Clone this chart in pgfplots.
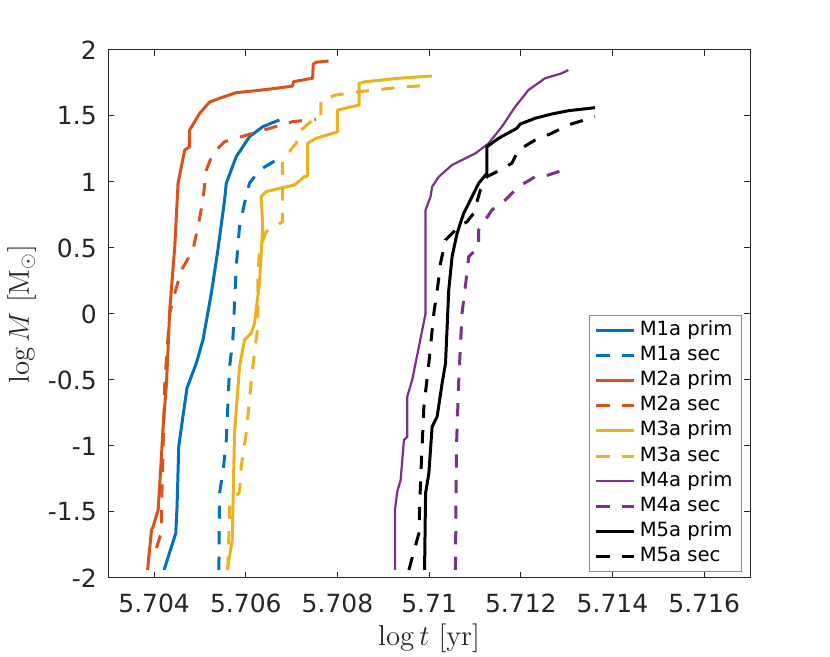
\documentclass[border=0pt]{standalone}
\usepackage[no-math]{fontspec}
\setmainfont{DejaVu Sans}
\usepackage{pgfplots}
\pgfplotsset{compat=1.18}
\definecolor{mblue}{rgb}{0,0.447,0.741}
\definecolor{morange}{rgb}{0.85,0.325,0.098}
\definecolor{myellow}{rgb}{0.929,0.694,0.125}
\definecolor{mpurple}{rgb}{0.494,0.184,0.556}
\tikzset{mdash/.style={dash pattern=on 6.6pt off 6.2pt}}
\begin{document}
\begin{tikzpicture}
\path[use as bounding box, fill=white] (-54.15pt,-39.5pt) rectangle (360.85pt,289pt);
\begin{axis}[
  at={(0pt,0pt)}, anchor=south west,
  scale only axis, width=320.85pt, height=264pt,
  xmin=5.703, xmax=5.717, ymin=-2, ymax=2,
  scaled x ticks=false, scaled y ticks=false,
  xtick={5.704,5.706,5.708,5.710,5.712,5.714,5.716},
  xticklabels={5.704,5.706,5.708,5.71,5.712,5.714,5.716},
  ytick={-2,-1.5,-1,-0.5,0,0.5,1,1.5,2},
  yticklabels={-2,-1.5,-1,-0.5,0,0.5,1,1.5,2},
  tick align=inside, major tick length=3pt,
  tick style={black!85, line width=0.5pt},
  axis line style={black!85, line width=0.5pt},
  xticklabel style={font=\fontsize{12.5}{15}\selectfont, text=black!85, anchor=base, inner sep=0pt, yshift=-17.5pt},
  yticklabel style={font=\fontsize{12.5}{15}\selectfont, text=black!85, anchor=east, inner sep=0pt, xshift=-5.6pt},
  xlabel={$\log t\ [\mathrm{yr}]$},
  ylabel={$\log M\ [\mathrm{M}_\odot]$},
  xlabel style={at={(axis description cs:0.5,0)}, anchor=base, inner sep=0pt, yshift=-34pt, font=\fontsize{14}{17}\selectfont, text=black!85},
  ylabel style={at={(axis description cs:-0.1236,0.5)}, anchor=base, inner sep=0pt, font=\fontsize{14}{17}\selectfont, text=black!85},
  legend cell align=left,
  legend image code/.code={\draw[#1] (0pt,0pt) -- (19pt,0pt);},
  legend style={at={(axis description cs:0.9875,0.0114)}, anchor=south east,
    draw=black!45, line width=0.5pt, fill=white,
    font=\fontsize{9.8}{11}\selectfont,
    inner xsep=2.5pt, inner ysep=1pt, row sep=0pt, column sep=0pt,
    nodes={text height=7.3pt, text depth=2.3pt, inner ysep=1.5pt, inner xsep=2pt}},
  every axis plot/.append style={line width=1.5pt, line join=round},
]
% M1a prim
\addplot[mblue] coordinates {
(5.704217,-1.939) (5.704472,-1.661) (5.704500,-1.460) (5.704537,-1.005) (5.704617,-0.803)
(5.704717,-0.561) (5.704922,-0.371) (5.705065,-0.197) (5.705248,0.157) (5.705391,0.485)
(5.705537,0.864) (5.705574,0.990) (5.705791,1.192) (5.706080,1.343) (5.706370,1.419) (5.706733,1.470)};
\addlegendentry{M1a prim}
% M1a sec
\addplot[mblue, mdash] coordinates {
(5.705413,-1.939) (5.705428,-1.358) (5.705515,-1.157) (5.705574,-0.955) (5.705646,-0.399)
(5.705717,-0.197) (5.705791,0.358) (5.705863,0.661) (5.705972,0.839) (5.706080,0.990)
(5.706298,1.091) (5.706733,1.180)};
\addlegendentry{M1a sec}
% M2a prim
\addplot[morange] coordinates {
(5.703857,-1.939) (5.703943,-1.636) (5.703978,-1.611) (5.704087,-1.485) (5.704146,-1.157)
(5.704196,-0.854) (5.704270,-0.523) (5.704341,0.030) (5.704450,0.510) (5.704522,0.990)
(5.704667,1.242) (5.704776,1.267) (5.704776,1.394) (5.704993,1.520) (5.705211,1.606)
(5.705428,1.634) (5.705791,1.677) (5.706226,1.692) (5.706661,1.710) (5.707022,1.727)
(5.707037,1.760) (5.707457,1.786) (5.707472,1.894) (5.707530,1.907) (5.707804,1.917)};
\addlegendentry{M2a prim}
% M2a sec
\addplot[morange, mdash] coordinates {
(5.704052,-1.773) (5.704161,-1.649) (5.704161,-1.485) (5.704196,-1.005) (5.704233,-0.513)
(5.704341,0.008) (5.704450,0.157) (5.704596,0.333) (5.704848,0.485) (5.704993,0.727)
(5.705065,0.864) (5.705139,1.091) (5.705283,1.217) (5.705537,1.305) (5.705863,1.339)
(5.706152,1.369) (5.706733,1.428) (5.707022,1.457) (5.707530,1.475)};
\addlegendentry{M2a sec}
% M3a prim
\addplot[myellow] coordinates {
(5.705596,-1.939) (5.705704,-1.712) (5.705754,-0.904) (5.705863,-0.399) (5.705972,-0.197)
(5.706117,-0.146) (5.706189,-0.071) (5.706298,0.232) (5.706370,0.661) (5.706335,0.889)
(5.706443,0.927) (5.706733,0.952) (5.707059,0.977) (5.707276,1.040) (5.707348,1.045)
(5.707348,1.293) (5.707530,1.331) (5.708000,1.379) (5.708000,1.545) (5.708472,1.583)
(5.708472,1.748) (5.708617,1.760) (5.709341,1.786) (5.710065,1.803)};
\addlegendentry{M3a prim}
% M3a sec
\addplot[myellow, mdash] coordinates {
(5.705609,-1.939) (5.705646,-1.460) (5.705863,-1.346) (5.705900,-1.157) (5.706009,-0.904)
(5.706080,-0.652) (5.706152,-0.399) (5.706261,-0.096) (5.706261,0.258) (5.706298,0.485)
(5.706443,0.623) (5.706804,0.699) (5.706804,1.167) (5.707096,1.293) (5.707167,1.381)
(5.707457,1.470) (5.707639,1.492) (5.707639,1.621) (5.707965,1.659) (5.708472,1.684)
(5.709341,1.717) (5.710065,1.735)};
\addlegendentry{M3a sec}
% M4a prim
\addplot[mpurple, line width=1.1pt] coordinates {
(5.709254,-1.939) (5.709254,-1.485) (5.709304,-1.346) (5.709378,-1.258) (5.709450,-0.955)
(5.709522,-0.930) (5.709522,-0.626) (5.709630,-0.500) (5.709776,-0.248) (5.709922,0.005)
(5.709922,0.788) (5.710030,0.889) (5.710065,0.964) (5.710211,1.040) (5.710500,1.129)
(5.711009,1.217) (5.711298,1.293) (5.711587,1.419) (5.711878,1.570) (5.712167,1.697)
(5.712530,1.786) (5.712891,1.823) (5.713037,1.848)};
\addlegendentry{M4a prim}
% M4a sec
\addplot[mpurple, mdash] coordinates {
(5.710574,-1.939) (5.710596,-1.005) (5.710646,-0.500) (5.710717,0.005) (5.710798,0.232)
(5.710863,0.434) (5.711080,0.510) (5.711080,0.636) (5.711370,0.788) (5.711661,0.864)
(5.711950,0.964) (5.712313,1.040) (5.712530,1.045) (5.712820,1.078) (5.712965,1.104)};
\addlegendentry{M4a sec}
% M5a prim
\addplot[black] coordinates {
(5.709900,-1.939) (5.709922,-1.358) (5.709993,-1.207) (5.710065,-0.854) (5.710174,-0.778)
(5.710283,-0.525) (5.710357,-0.374) (5.710428,0.182) (5.710500,0.434) (5.710609,0.611)
(5.710754,0.763) (5.711080,0.990) (5.711261,1.066) (5.711261,1.267) (5.711515,1.331)
(5.711913,1.407) (5.711987,1.439) (5.712313,1.483) (5.712674,1.515) (5.713037,1.540) (5.713617,1.563)};
\addlegendentry{M5a prim}
% M5a sec
\addplot[black, mdash] coordinates {
(5.709558,-1.939) (5.709776,-1.661) (5.709813,-1.258) (5.709885,-0.702) (5.709993,-0.374)
(5.710102,0.005) (5.710196,0.232) (5.710248,0.384) (5.710357,0.561) (5.710646,0.661)
(5.710826,0.699) (5.710972,0.763) (5.711117,0.939) (5.711261,1.040) (5.711478,1.078)
(5.711804,1.142) (5.711950,1.242) (5.712313,1.318) (5.712674,1.369) (5.713037,1.432) (5.713617,1.495)};
\addlegendentry{M5a sec}
\end{axis}
\end{tikzpicture}
\end{document}
